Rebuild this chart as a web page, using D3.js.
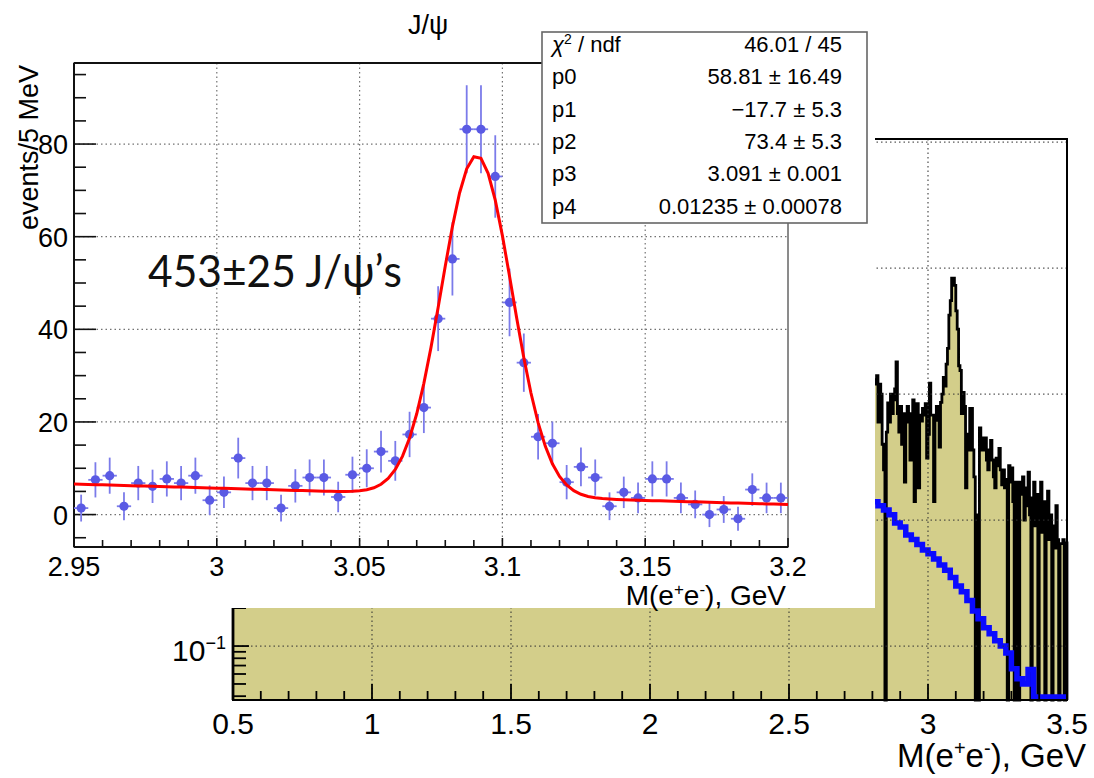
<!DOCTYPE html>
<html><head><meta charset="utf-8">
<script src="https://cdn.jsdelivr.net/npm/d3@7"></script>
<style>body{margin:0;background:#fff} svg{display:block}</style>
</head><body>
<svg id="c" width="1094" height="778"></svg>
<script>
// ================= DATA =================
// Inset: J/psi peak, 5 MeV bins from 2.95 to 3.20 GeV
const insetBinLow = [2.950,2.955,2.960,2.965,2.970,2.975,2.980,2.985,2.990,2.995,
  3.000,3.005,3.010,3.015,3.020,3.025,3.030,3.035,3.040,3.045,
  3.050,3.055,3.060,3.065,3.070,3.075,3.080,3.085,3.090,3.095,
  3.100,3.105,3.110,3.115,3.120,3.125,3.130,3.135,3.140,3.145,
  3.150,3.155,3.160,3.165,3.170,3.175,3.180,3.185,3.190,3.195];
const insetValues = [1.4,7.5,8.4,1.8,6.8,6.1,7.7,6.8,8.4,3.1,
  4.8,12.2,6.8,6.8,1.4,6.2,8.0,8.0,3.8,8.6,
  10.0,13.6,11.6,17.3,23.1,42.3,55.2,83.2,83.2,73.0,
  45.8,32.8,16.8,15.4,7.0,10.3,8.0,1.8,4.8,3.6,
  7.7,7.7,3.6,2.2,0.0,1.1,-0.9,5.4,3.6,3.6];
const insetErrors = [2.9,3.8,3.9,3.0,3.7,3.6,3.8,3.7,3.9,3.2,
  3.4,4.4,3.7,3.7,2.9,3.6,3.9,3.9,3.3,3.9,
  4.1,4.5,4.3,4.9,5.5,7.0,7.9,9.5,9.5,8.9,
  7.3,6.3,4.9,4.7,3.7,4.2,3.9,3.0,3.4,3.3,
  3.8,3.8,3.3,3.0,2.7,2.9,2.6,3.5,3.3,3.3];
const binWidth = 0.005;
// fit: p0 + p1*x + p2*exp(-0.5*((x-p3)/p4)^2)
const fitParams = [58.81, -17.7, 73.4, 3.091, 0.01235];
const statsLabels = ["χ2 / ndf","p0","p1","p2","p3","p4"];
const statsValues = ["46.01 / 45","58.81 ± 16.49","−17.7 ± 5.3","73.4 ± 5.3","3.091 ± 0.001","0.01235 ± 0.00078"];
const insetXTicks = [2.95,3.0,3.05,3.1,3.15,3.2];
const insetXTickLabels = ["2.95","3","3.05","3.1","3.15","3.2"];
const insetYTicks = [0,20,40,60,80];

// Background: full mass spectrum (log scale)
const bgLowEdges = [0.5, 2.8];      // hidden under inset
const bgLowValues = [20];
const bgBinLowA = 2.800;            // 5 MeV bins 2.800 .. 2.945
const bgValuesA = [12,12,13,14,6,12,10,4,2.5,0, 5,8.5,6,10,7,9,11,18,7,5, 8,4,7,2,6,8,6,3,7,9];
const bgBinLowC = 3.200;            // 5 MeV bins 3.200 .. 3.495
const bgValuesC = [4.5,4.5,3.0,2.5,3.6,4.3,3.0,2.2,1.8,3.1, 2.7,3.7,2.5,1.9,2.5,1.8,2.1,0,2.7,2.0,
  2.6,1.4,0,2.0,1.2,0,2.0,1.6,2.2,1.0, 1.8,1.3,2.4,1.1,0,1.5,2.0,0.9,1.6,0,
  1.2,2.0,0.8,1.4,0,1.0,1.7,0.7,1.1,0, 0.9,0.6,1.3,0.7,0,0.65,0.65,0.7,0,0.66];
const blueBinLow = 2.80, blueBinWidth = 0.02;
const blueValues = [1.40,1.30,1.20,1.10,0.95,0.88,0.76,0.70,0.64,0.58,
  0.54,0.49,0.44,0.40,0.35,0.30,0.27,0.23,0.19,0.165,
  0.14,0.125,0.11,0.10,0.088,0.066,0.055,0.05,0.065,0,
  0,0,0,0,0];
const bgXTicks = [0.5,1,1.5,2,2.5,3,3.5];
const bgXTickLabels = ["0.5","1","1.5","2","2.5","3","3.5"];
const bgYDecades = [0.1,1,10,100,1000];

// ================= DRAW =================
const svg = d3.select("#c");
const FONT = "'Liberation Sans', Arial, Helvetica, sans-serif";
const KHAKI = "#d3ce8a";

// ---- background plot ----
const bx = d3.scaleLinear([0.5,3.5],[233,1067]);
const by = d3.scaleLog([0.0373,1060],[700,139]);
const yb = v => (v <= by.domain()[0]) ? 700 : Math.max(139, by(v));

const bins = [];
bgLowValues.forEach((v,i)=>bins.push({x0:bgLowEdges[i],x1:bgLowEdges[i+1],v}));
bgValuesA.forEach((v,i)=>{const x0=bgBinLowA+i*binWidth;bins.push({x0,x1:x0+binWidth,v});});
insetValues.forEach((v,i)=>bins.push({x0:insetBinLow[i],x1:insetBinLow[i]+binWidth,v}));
bgValuesC.forEach((v,i)=>{const x0=bgBinLowC+i*binWidth;bins.push({x0,x1:x0+binWidth,v});});

function stepPts(bs, yfun, base){
  const pts=[[bx(bs[0].x0),base]];
  bs.forEach(b=>{pts.push([bx(b.x0),yfun(b.v)]);pts.push([bx(b.x1),yfun(b.v)]);});
  pts.push([bx(bs[bs.length-1].x1),base]);
  return pts;
}
const line = d3.line();
const hp = stepPts(bins, yb, 700);
svg.append("path").attr("d",line(hp)+"Z").attr("fill",KHAKI).attr("stroke","none");
svg.append("path").attr("d",line(hp)).attr("fill","none").attr("stroke","#000").attr("stroke-width",2.8).attr("stroke-linejoin","miter");

// blue histogram
const bbins = blueValues.map((v,i)=>({x0:blueBinLow+i*blueBinWidth,x1:blueBinLow+(i+1)*blueBinWidth,v}));
const blueY = v => (v <= by.domain()[0]) ? 697 : by(v);
const bpts = [];
bbins.forEach(b=>{bpts.push([bx(b.x0),blueY(b.v)]);bpts.push([bx(b.x1),blueY(b.v)]);});
svg.append("path").attr("d",line(bpts)).attr("fill","none").attr("stroke","#0a0aff").attr("stroke-width",5.5);

// grid
const gb = svg.append("g").attr("stroke","#333").attr("stroke-width",1.3).attr("stroke-dasharray","1.5,3").attr("opacity",0.8);
bgYDecades.forEach(d=>gb.append("line").attr("x1",233).attr("x2",1067).attr("y1",by(d)).attr("y2",by(d)));
bgXTicks.slice(1,-1).forEach(t=>gb.append("line").attr("x1",bx(t)).attr("x2",bx(t)).attr("y1",139).attr("y2",700));

// frame + ticks
svg.append("rect").attr("x",233).attr("y",139).attr("width",834).attr("height",561).attr("fill","none").attr("stroke","#000").attr("stroke-width",2);
const tb = svg.append("g").attr("stroke","#000").attr("stroke-width",1.8);
d3.range(0.5,3.5001,0.1).forEach(t=>{
  const major = Math.abs(t*2-Math.round(t*2))<1e-6;
  tb.append("line").attr("x1",bx(t)).attr("x2",bx(t)).attr("y1",700).attr("y2",700-(major?16:9));
});
bgYDecades.forEach((d,di)=>{
  [1,2,3,4,5,6,7,8,9].forEach(k=>{
    const v = d*k/10; if(v<by.domain()[0]||v>by.domain()[1]) return;
    tb.append("line").attr("x1",233).attr("x2",233+(k===1?16:13)).attr("y1",by(v)).attr("y2",by(v));
  });
});
bgXTicks.forEach((t,i)=>svg.append("text").attr("x",bx(t)).attr("y",734).attr("text-anchor","middle")
  .attr("font-family",FONT).attr("font-size",30).text(bgXTickLabels[i]));
const ylab = svg.append("text").attr("x",226).attr("y",661).attr("text-anchor","end").attr("font-family",FONT).attr("font-size",30);
ylab.append("tspan").text("10");
ylab.append("tspan").attr("dy",-12).attr("font-size",18).text("−1");
const bxt = svg.append("text").attr("x",1086).attr("y",767).attr("text-anchor","end").attr("font-family",FONT).attr("font-size",33);
bxt.append("tspan").text("M(e");
bxt.append("tspan").attr("dy",-12).attr("font-size",20).text("+");
bxt.append("tspan").attr("dy",12).text("e");
bxt.append("tspan").attr("dy",-12).attr("font-size",20).text("-");
bxt.append("tspan").attr("dy",12).text("), GeV");

// ---- inset ----
svg.append("rect").attr("x",0).attr("y",0).attr("width",875).attr("height",608).attr("fill","#fff");
const ix = d3.scaleLinear([2.95,3.2],[74,788]);
const iy = d3.scaleLinear([-7,97.5],[547,63]);

const gi = svg.append("g").attr("stroke","#444").attr("stroke-width",1.2).attr("stroke-dasharray","1.5,3").attr("opacity",0.75);
insetYTicks.forEach(t=>gi.append("line").attr("x1",74).attr("x2",788).attr("y1",iy(t)).attr("y2",iy(t)));
insetXTicks.slice(1,-1).forEach(t=>gi.append("line").attr("x1",ix(t)).attr("x2",ix(t)).attr("y1",63).attr("y2",547));

svg.append("rect").attr("x",74).attr("y",63).attr("width",714).attr("height",484).attr("fill","none").attr("stroke","#666").attr("stroke-width",1.5);
svg.append("line").attr("x1",74).attr("x2",74).attr("y1",63).attr("y2",547).attr("stroke","#111").attr("stroke-width",2);
svg.append("line").attr("x1",74).attr("x2",788).attr("y1",547).attr("y2",547).attr("stroke","#111").attr("stroke-width",2);
svg.append("line").attr("x1",74).attr("x2",542).attr("y1",63).attr("y2",63).attr("stroke","#111").attr("stroke-width",2);
const ti = svg.append("g").attr("stroke","#111").attr("stroke-width",1.6);
d3.range(-5,96,5).forEach(t=>{
  const major = t%20===0;
  ti.append("line").attr("x1",74).attr("x2",74+(major?22:12)).attr("y1",iy(t)).attr("y2",iy(t));
});
d3.range(0,26,1).forEach(k=>{
  const t = 2.95+k*0.01; const major = k%5===0;
  ti.append("line").attr("x1",ix(t)).attr("x2",ix(t)).attr("y1",547).attr("y2",547-(major?9:7));
});
insetYTicks.forEach(t=>svg.append("text").attr("x",68).attr("y",iy(t)+10).attr("text-anchor","end")
  .attr("font-family",FONT).attr("font-size",27).text(t));
insetXTicks.forEach((t,i)=>svg.append("text").attr("x",ix(t)).attr("y",576).attr("text-anchor","middle")
  .attr("font-family",FONT).attr("font-size",27).text(insetXTickLabels[i]));
const ixt = svg.append("text").attr("x",786).attr("y",605).attr("text-anchor","end").attr("font-family",FONT).attr("font-size",28);
ixt.append("tspan").text("M(e");
ixt.append("tspan").attr("dy",-10).attr("font-size",17).text("+");
ixt.append("tspan").attr("dy",10).text("e");
ixt.append("tspan").attr("dy",-10).attr("font-size",17).text("-");
ixt.append("tspan").attr("dy",10).text("), GeV");
svg.append("text").attr("transform","translate(38,65) rotate(-90)").attr("text-anchor","end")
  .attr("font-family",FONT).attr("font-size",27).text("events/5 MeV");
svg.append("text").attr("x",428).attr("y",34).attr("text-anchor","middle").attr("font-family",FONT).attr("font-size",27).text("J/ψ");

// data points
const ptCol = "#5a5ae4", barCol = "#7b7bea";
const gp = svg.append("g");
insetValues.forEach((v,i)=>{
  const xc = insetBinLow[i]+binWidth/2;
  gp.append("line").attr("x1",ix(xc)).attr("x2",ix(xc)).attr("y1",iy(v-insetErrors[i])).attr("y2",iy(v+insetErrors[i]))
    .attr("stroke",barCol).attr("stroke-width",1.8);
  gp.append("line").attr("x1",ix(insetBinLow[i])).attr("x2",ix(insetBinLow[i]+binWidth)).attr("y1",iy(v)).attr("y2",iy(v))
    .attr("stroke",barCol).attr("stroke-width",1.8);
});
// fit curve
const fx = d3.range(2.95,3.20001,0.0025);
const p = fitParams;
const fitPts = fx.map(x=>[ix(x), iy(p[0]+p[1]*x+p[2]*Math.exp(-0.5*((x-p[3])/p[4])**2))]);
svg.append("path").attr("d",d3.line()(fitPts)).attr("fill","none").attr("stroke","#ff0000").attr("stroke-width",3);
insetValues.forEach((v,i)=>{
  const xc = insetBinLow[i]+binWidth/2;
  gp.append("circle").attr("cx",ix(xc)).attr("cy",iy(v)).attr("r",4.6).attr("fill",ptCol);
});

// annotation
svg.append("text").attr("x",148).attr("y",287).attr("font-family","Lato, 'Open Sans', sans-serif")
  .attr("font-size",44).attr("textLength",254).attr("lengthAdjust","spacingAndGlyphs").attr("fill","#111").text("453±25 J/ψ’s");

// stats box
svg.append("rect").attr("x",542).attr("y",32).attr("width",325).attr("height",191).attr("fill","#fff").attr("stroke","#666").attr("stroke-width",1.6);
statsLabels.forEach((l,i)=>{
  const yb0 = 52 + i*32.3;
  const t = svg.append("text").attr("x",552).attr("y",yb0).attr("font-family",FONT).attr("font-size",22);
  if(i===0){
    t.append("tspan").attr("font-style","italic").text("χ");
    t.append("tspan").attr("dy",-8).attr("font-size",14).text("2");
    t.append("tspan").attr("dy",8).text(" / ndf");
  } else t.text(l);
  svg.append("text").attr("x",842).attr("y",yb0).attr("text-anchor","end").attr("font-family",FONT).attr("font-size",22).text(statsValues[i]);
});
</script>
</body></html>
